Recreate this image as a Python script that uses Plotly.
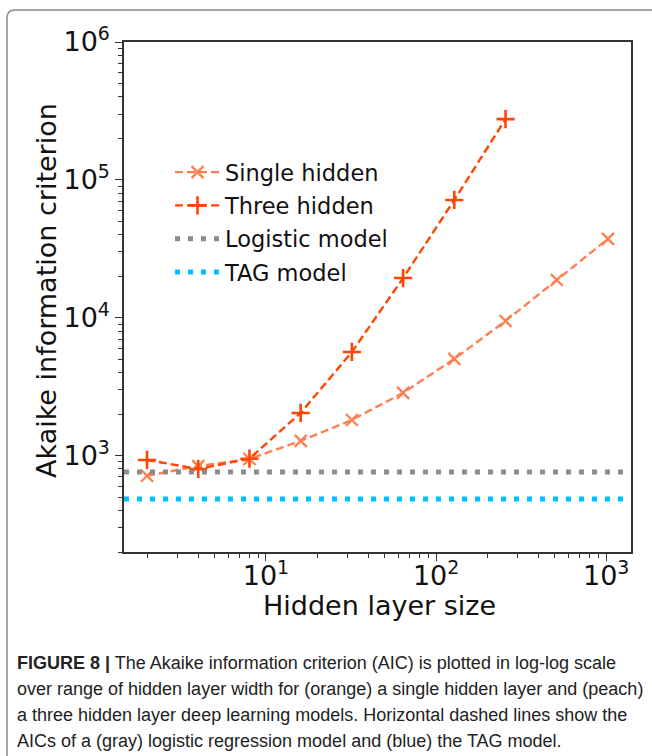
import plotly.graph_objects as go

# Hidden layer widths and AIC values for the two network depths
single_sizes = [2, 4, 8, 16, 32, 64, 128, 256, 512, 1024]
single_aic = [715, 840, 945, 1280, 1815, 2850, 5030, 9480, 18800, 37300]

three_sizes = [2, 4, 8, 16, 32, 64, 128, 256]
three_aic = [930, 800, 950, 2040, 5650, 19400, 71500, 276000]

# Reference models (constant AIC)
logistic_aic = 762
tag_aic = 485

# Axis limits (log10 units) and tick labels
x_range = [0.1656, 3.1458]
y_range = [2.30103, 6.0]
x_major = [10, 100, 1000]
x_major_text = ["10<sup>1</sup>", "10<sup>2</sup>", "10<sup>3</sup>"]
y_major = [1e3, 1e4, 1e5, 1e6]
y_major_text = ["10<sup>3</sup>", "10<sup>4</sup>", "10<sup>5</sup>", "10<sup>6</sup>"]

caption_lines = [
    "<b>FIGURE 8 |</b> The Akaike information criterion (AIC) is plotted in log-log scale",
    "over range of hidden layer width for (orange) a single hidden layer and (peach)",
    "a three hidden layer deep learning models. Horizontal dashed lines show the",
    "AICs of a (gray) logistic regression model and (blue) the TAG model.",
]

W, H = 652, 756
L, R, T, B = 124, 21, 42, 204
PW, PH = W - L - R, H - T - B


def px(x):
    return (x - L) / PW


def py(y):
    return (H - B - y) / PH


def minor_vals(lo_exp, hi_exp):
    return [m * 10 ** e for e in range(lo_exp, hi_exp + 1) for m in range(2, 10)]


x_lo, x_hi = 10 ** x_range[0], 10 ** x_range[1]

fig = go.Figure()

fig.add_trace(go.Scatter(
    x=single_sizes, y=single_aic, name="Single hidden", mode="lines+markers",
    line=dict(color="#FF7F50", width=2.4, dash="8px,4px"),
    marker=dict(symbol="x-thin", size=12, line=dict(color="#FF7F50", width=2.3)),
    legendgroup="a",
))
fig.add_trace(go.Scatter(
    x=three_sizes, y=three_aic, name="Three hidden", mode="lines+markers",
    line=dict(color="#FF4500", width=2.4, dash="8px,4px"),
    marker=dict(symbol="cross-thin", size=13, line=dict(color="#FF4500", width=2.6)),
    legendgroup="b",
))
fig.add_trace(go.Scatter(
    x=[x_lo, x_hi], y=[logistic_aic, logistic_aic], name="Logistic model",
    mode="lines", line=dict(color="#8c8c8c", width=5, dash="5px,8px"),
    legendgroup="c",
))
fig.add_trace(go.Scatter(
    x=[x_lo, x_hi], y=[tag_aic, tag_aic], name="TAG model",
    mode="lines", line=dict(color="#00BFFF", width=5, dash="5px,8px"),
    legendgroup="d",
))

axis_font = dict(family="DejaVu Sans", size=27, color="#111")

fig.update_xaxes(
    type="log", range=x_range, showgrid=False, zeroline=False,
    showline=True, linecolor="#333", linewidth=1.5, mirror=True,
    ticks="outside", ticklen=7, tickwidth=1.3, tickcolor="#333",
    tickvals=x_major, ticktext=x_major_text, tickfont=axis_font,
    ticklabelstandoff=-8,
    minor=dict(ticks="outside", ticklen=4, tickwidth=1, tickcolor="#333",
               tickvals=minor_vals(0, 3), showgrid=False),
)
fig.update_yaxes(
    type="log", range=y_range, showgrid=False, zeroline=False,
    showline=True, linecolor="#333", linewidth=1.5, mirror=True,
    ticks="outside", ticklen=7, tickwidth=1.3, tickcolor="#333",
    tickvals=y_major, ticktext=y_major_text, tickfont=axis_font,
    minor=dict(ticks="outside", ticklen=4, tickwidth=1, tickcolor="#333",
               tickvals=minor_vals(2, 5), showgrid=False),
)

annotations = [
    # axis titles
    dict(text="Hidden layer size", xref="paper", yref="paper",
         x=px(379), y=py(605), xanchor="center", yanchor="middle",
         showarrow=False, font=axis_font),
    dict(text="Akaike information criterion", xref="paper", yref="paper",
         x=px(46), y=py(291), xanchor="center", yanchor="middle",
         textangle=-90, showarrow=False, font=axis_font),
]
for i, line in enumerate(caption_lines):
    annotations.append(dict(
        text=line, xref="paper", yref="paper", x=px(15), y=py(663 + 26 * i),
        xanchor="left", yanchor="middle", showarrow=False, align="left",
        font=dict(family="Liberation Sans, Arial", size=18, color="#222"),
    ))

# Rounded frame around the figure panel
border = (f"M {px(7)},{py(770)} L {px(7)},{py(18)} "
          f"Q {px(7)},{py(10)} {px(15)},{py(10)} L {px(670)},{py(10)}")

fig.update_layout(
    width=W, height=H, autosize=False,
    margin=dict(l=L, r=R, t=T, b=B),
    paper_bgcolor="white", plot_bgcolor="white",
    font=dict(family="DejaVu Sans", color="#111"),
    legend=dict(
        x=px(170), y=py(151), xanchor="left", yanchor="top",
        bgcolor="rgba(0,0,0,0)", borderwidth=0, itemwidth=45,
        font=dict(family="DejaVu Sans", size=22.5, color="#111"),
        traceorder="grouped", tracegroupgap=1,
    ),
    annotations=annotations,
    shapes=[dict(type="path", path=border, xref="paper", yref="paper",
                 line=dict(color="#8a8a8a", width=1.5))],
)

fig.write_html("out.html")
